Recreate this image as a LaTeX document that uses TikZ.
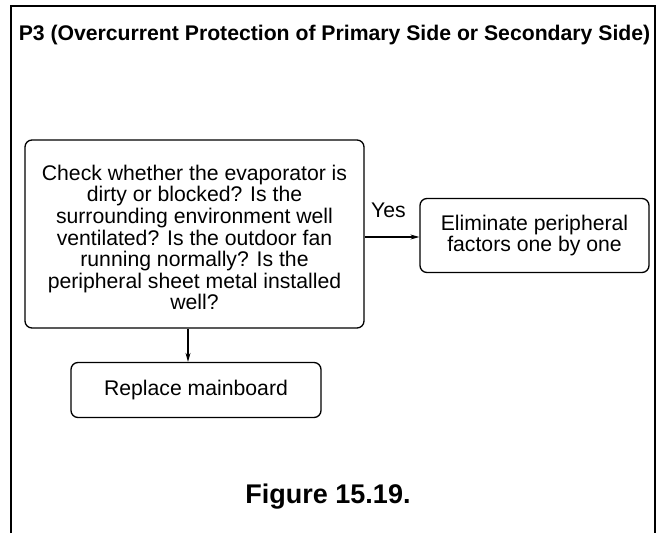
\documentclass[tikz,border=0pt]{standalone}
\usepackage{fontspec}
\setmainfont{Liberation Sans}
\usetikzlibrary{arrows.meta}
\begin{document}
\begin{tikzpicture}[x=1pt,y=-1pt,
  box/.style={draw,line width=1.3pt,rounded corners=7pt,align=center,font=\fontsize{21.2}{21.8}\selectfont,inner sep=0pt},
  txt/.style={align=center,font=\fontsize{21.2}{21.6}\selectfont,inner sep=0pt},
  conn/.style={line width=1.1pt,-{Stealth[length=9pt,width=5pt]}}]
\useasboundingbox (0,0) rectangle (663,533);
\draw[line width=1.3pt] (11,533) -- (11,6) -- (655,6) -- (655,533);
\node[font=\fontsize{21.2}{24}\bfseries\selectfont] (title) at (334.5,35) {P3 (Overcurrent Protection of Primary Side or Secondary Side)};
\node[box,minimum width=339pt,minimum height=188pt] (check) at (194.5,234) {};
\node[txt] (checktext) at (194.5,237.5) {Check whether the evaporator is\\dirty or blocked? Is the\\surrounding environment well\\ventilated? Is the outdoor fan\\running normally? Is the\\peripheral sheet metal installed\\well?};
\node[box,minimum width=229pt,minimum height=74pt] (elim) at (534.5,235.5) {Eliminate peripheral\\factors one by one};
\node[box,minimum width=250pt,minimum height=55pt] (repl) at (196,390) {Replace mainboard};
\draw[conn] (check.east |- 0,237) -- (elim.west |- 0,237);
\node[font=\fontsize{21.2}{24}\selectfont] (yes) at (388.5,210) {Yes};
\draw[conn] (check.south -| 188,0) -- (repl.north -| 188,0);
\node[font=\fontsize{27}{30}\bfseries\selectfont] (fig) at (328,497) {Figure 15.19.};
\end{tikzpicture}
\end{document}
